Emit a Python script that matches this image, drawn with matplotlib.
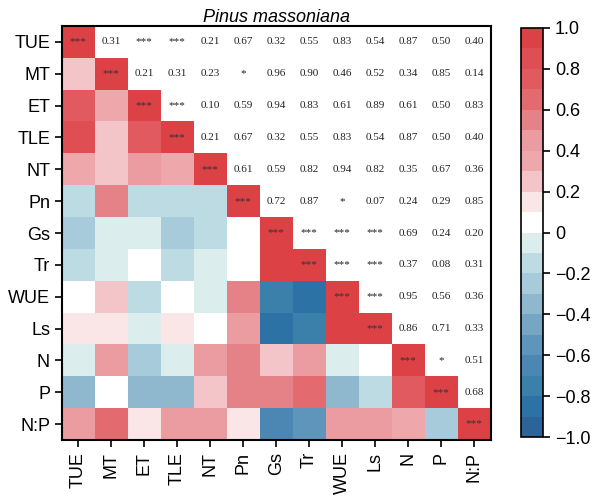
import numpy as np
import matplotlib
matplotlib.use('Agg')
from matplotlib import pyplot as plt
from matplotlib.colors import ListedColormap, BoundaryNorm

plt.rcParams['font.family'] = ['Liberation Sans', 'DejaVu Sans']

labels = ['TUE', 'MT', 'ET', 'TLE', 'NT', 'Pn', 'Gs', 'Tr', 'WUE', 'Ls', 'N', 'P', 'N:P']

r_rows = [
    [],
    [0.25],
    [0.75, 0.35],
    [0.85, 0.25, 0.75],
    [0.35, 0.25, 0.45, 0.35],
    [-0.15, 0.55, -0.15, -0.15, -0.15],
    [-0.25, -0.05, -0.05, -0.25, -0.15, 0.05],
    [-0.15, -0.05, 0.05, -0.15, -0.05, 0.05, 0.95],
    [0.05, 0.25, -0.15, 0.05, -0.05, 0.55, -0.75, -0.85],
    [0.15, 0.15, -0.05, 0.15, 0.05, 0.45, -0.85, -0.75, 0.95],
    [-0.05, 0.45, -0.25, -0.05, 0.45, 0.55, 0.25, 0.45, -0.05, 0.05],
    [-0.35, 0.05, -0.35, -0.35, 0.25, 0.55, 0.55, 0.65, -0.35, -0.15, 0.75],
    [0.45, 0.65, 0.15, 0.45, 0.45, 0.15, -0.65, -0.55, 0.45, 0.45, 0.35, -0.25],
]

# upper triangle significance labels, row by row (columns right of the diagonal)
p_rows = [
    ['0.31', '***', '***', '0.21', '0.67', '0.32', '0.55', '0.83', '0.54', '0.87', '0.50', '0.40'],
    ['0.21', '0.31', '0.23', '*', '0.96', '0.90', '0.46', '0.52', '0.34', '0.85', '0.14'],
    ['***', '0.10', '0.59', '0.94', '0.83', '0.61', '0.89', '0.61', '0.50', '0.83'],
    ['0.21', '0.67', '0.32', '0.55', '0.83', '0.54', '0.87', '0.50', '0.40'],
    ['0.61', '0.59', '0.82', '0.94', '0.82', '0.35', '0.67', '0.36'],
    ['0.72', '0.87', '*', '0.07', '0.24', '0.29', '0.85'],
    ['***', '***', '***', '0.69', '0.24', '0.20'],
    ['***', '***', '0.37', '0.08', '0.31'],
    ['***', '0.95', '0.56', '0.36'],
    ['0.86', '0.71', '0.33'],
    ['*', '0.51'],
    ['0.68'],
    [],
]

n = len(labels)
mat = np.full((n, n), np.nan)
for i, row in enumerate(r_rows):
    for j, v in enumerate(row):
        mat[i, j] = v
for i in range(n):
    mat[i, i] = 1.0

# 20 discrete bands, -1.0 -> 1.0
band_colours = ['#2c6499', '#2d72a4', '#3a80ab', '#4b87b2', '#5f95bb',
                '#77a6c4', '#8fb8ce', '#a7cbda', '#bcdbe3', '#dcedee',
                '#ffffff', '#fae6e7', '#f3c5c8', '#eea8ab', '#eb9ca0',
                '#e58287', '#e36b70', '#e05a5f', '#de4e53', '#dc4146']
cmap = ListedColormap(band_colours)
norm = BoundaryNorm(np.linspace(-1, 1, 21), cmap.N)

fig = plt.figure(figsize=[5.95, 5.0], dpi=100)
ax = fig.add_axes([0.104, 0.12, 0.721, 0.828])
cax = fig.add_axes([0.876, 0.126, 0.037, 0.818])

im = ax.imshow(np.ma.masked_invalid(mat), cmap=cmap, norm=norm, aspect='auto',
               interpolation='nearest')

for i in range(n):
    ax.text(i, i, '***', ha='center', va='center', fontsize=8,
            family='Liberation Serif', color='#333333')
    for k, s in enumerate(p_rows[i]):
        j = i + 1 + k
        ax.text(j, i, s, ha='center', va='center', fontsize=8,
                family='Liberation Serif', color='#222222')

ax.set_xticks(range(n))
ax.set_yticks(range(n))
ax.set_xticklabels(labels, rotation=90, fontsize=13)
ax.set_yticklabels(labels, fontsize=13)
ax.tick_params(length=5, width=1.2)
for sp in ax.spines.values():
    sp.set_linewidth(1.5)
ax.set_title('Pinus massoniana', style='italic', fontsize=13, pad=3)

cb = fig.colorbar(im, cax=cax, ticks=np.linspace(-1, 1, 11))
cb.ax.set_yticklabels(['\u22121.0', '\u22120.8', '\u22120.6', '\u22120.4', '\u22120.2', '0',
                       '0.2', '0.4', '0.6', '0.8', '1.0'], fontsize=13)
cb.ax.tick_params(which='major', length=5, width=1.2)
cb.ax.tick_params(which='minor', length=0, width=0)
cb.outline.set_linewidth(1.2)

plt.savefig('out.png', dpi=100)
plt.close()
